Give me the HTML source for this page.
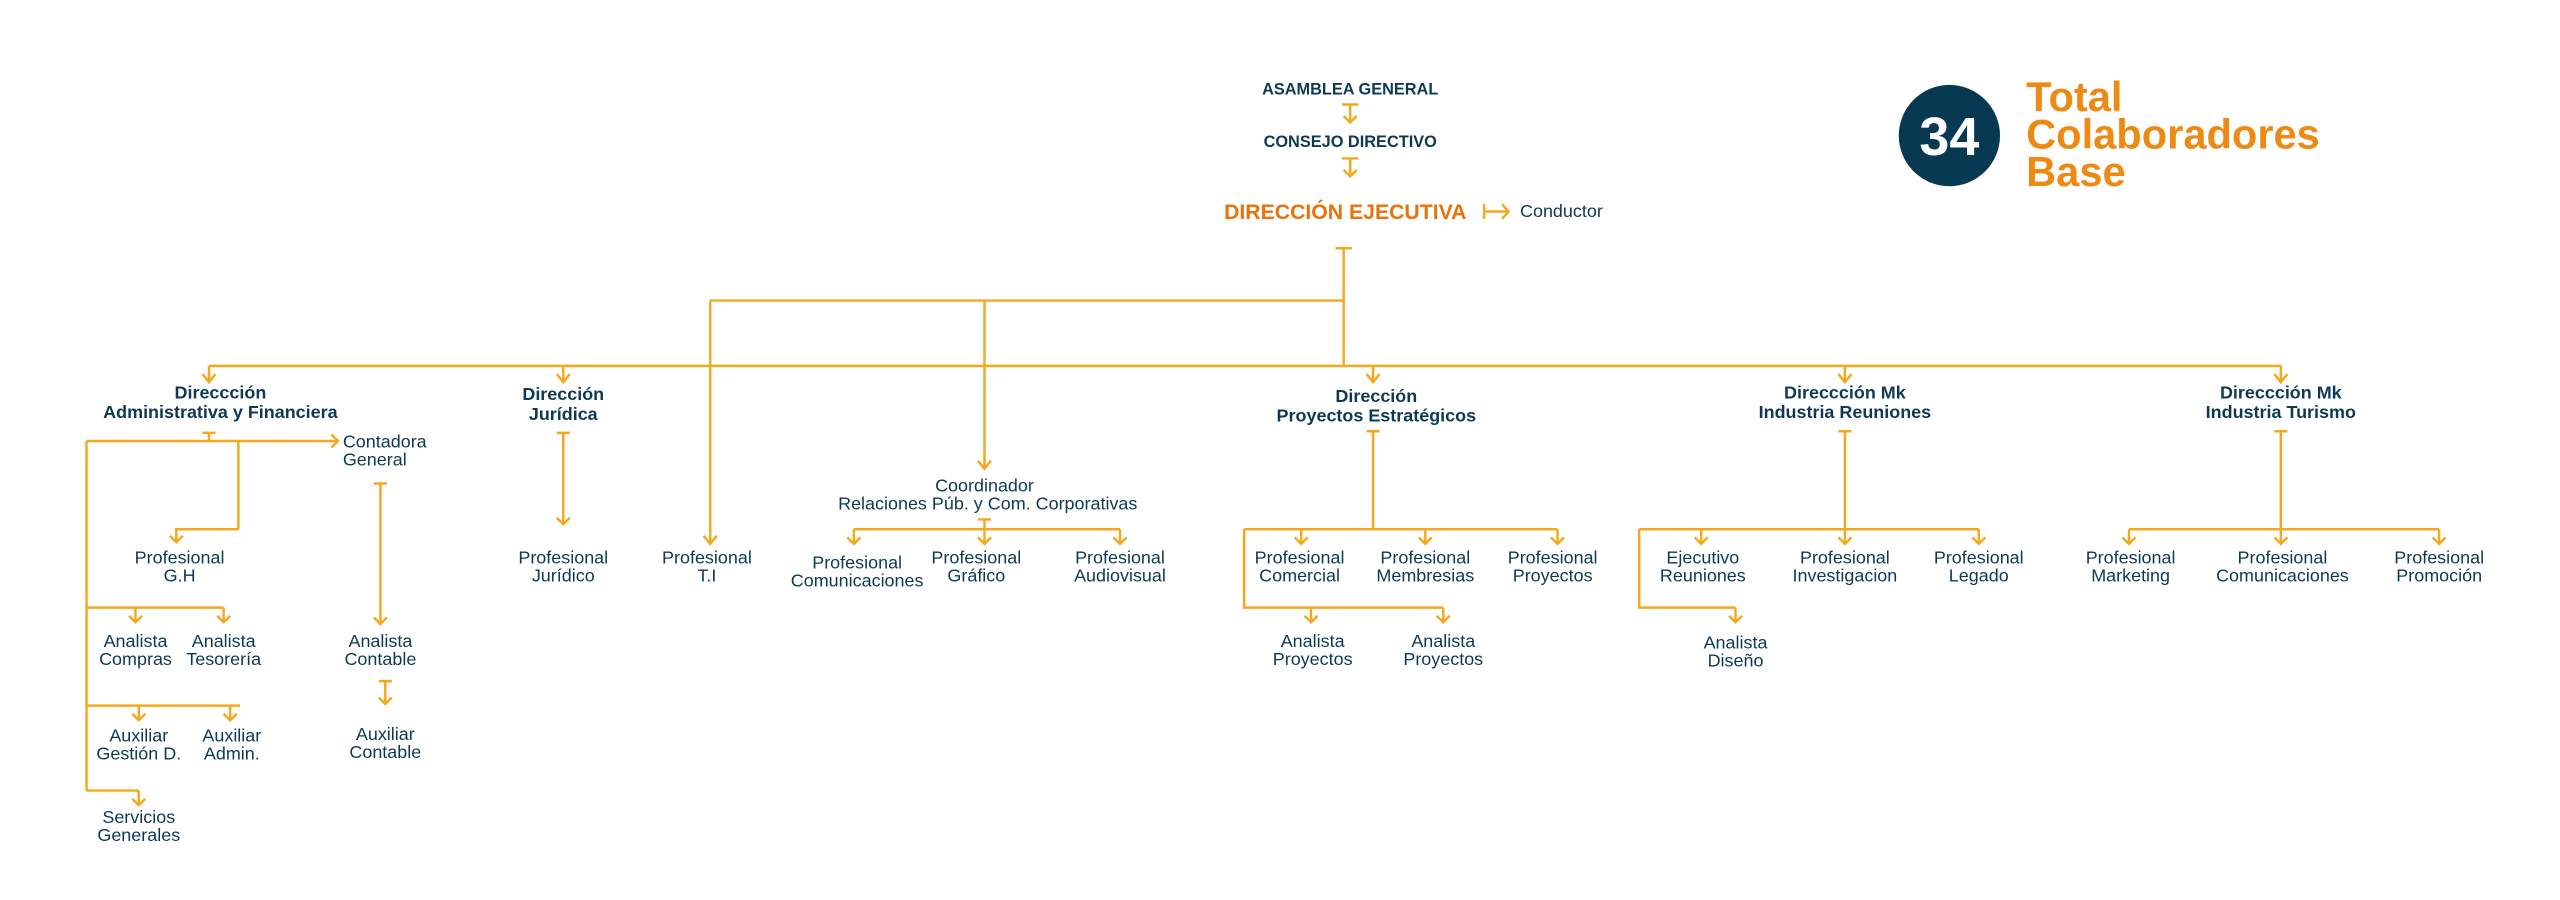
<!DOCTYPE html>
<html><head><meta charset="utf-8"><style>
html,body{margin:0;padding:0;background:#fff;}
svg{display:block}
text{font-family:"Liberation Sans",sans-serif;fill:#0d3a52;text-anchor:middle;font-size:11px}
.b{font-weight:bold;font-size:11px}
.l{fill:none;stroke:#f4a81d;stroke-width:1.5}
</style></head><body>
<svg width="2560" height="900" viewBox="0 0 1568 551" preserveAspectRatio="none" xmlns="http://www.w3.org/2000/svg">
<!-- top -->
<text x="827" y="58" class="b" style="font-size:10px">ASAMBLEA GENERAL</text>
<path class="l" d="M822 64H832M827 64V75M823 71L827 75L831 71"/>
<text x="827" y="90" class="b" style="font-size:10px">CONSEJO DIRECTIVO</text>
<path class="l" d="M822 97H832M827 97V108M823 104L827 108L831 104"/>
<text x="824" y="134" class="b" style="font-size:13px;fill:#e8720c">DIRECCIÓN EJECUTIVA</text>
<path class="l" d="M909 125V134M909 129.5H924M920 125L924 129.5L920 134"/>
<text x="931" y="133" style="text-anchor:start;font-size:11px">Conductor</text>
<circle cx="1194" cy="83" r="31" fill="#073a52"/>
<text x="1194" y="95" style="fill:#fff;font-weight:bold;font-size:33px">34</text>
<text x="1241" y="68" style="text-anchor:start;fill:#ee8a13;font-size:25.5px;font-weight:bold">Total</text>
<text x="1241" y="91" style="text-anchor:start;fill:#ee8a13;font-size:25.5px;font-weight:bold">Colaboradores</text>
<text x="1241" y="114" style="text-anchor:start;fill:#ee8a13;font-size:25.5px;font-weight:bold">Base</text>

<!-- main connectors -->
<path class="l" d="M818 152H828M823 152V224M435 184H823M435 184V333M431 328L435 333L439 328M603 184V287M599 282L603 287L607 282M128 224H1397"/>
<path class="l" d="M128 224V234M124 229L128 234L132 229M345 224V234M341 229L345 234L349 229M841 224V234M837 229L841 234L845 229M1130 224V234M1126 229L1130 234L1134 229M1397 224V234M1393 229L1397 234L1401 229"/>

<text x="135" y="244" class="b">Direccción</text>
<text x="135" y="256" class="b">Administrativa y Financiera</text>
<text x="345" y="245" class="b">Dirección</text>
<text x="345" y="257" class="b">Jurídica</text>
<text x="843" y="246" class="b">Dirección</text>
<text x="843" y="258" class="b">Proyectos Estratégicos</text>
<text x="1130" y="244" class="b">Direccción Mk</text>
<text x="1130" y="256" class="b">Industria Reuniones</text>
<text x="1397" y="244" class="b">Direccción Mk</text>
<text x="1397" y="256" class="b">Industria Turismo</text>

<!-- Admin -->
<path class="l" d="M124 265H132M128 265V270M53 270H207M203 266L207 270L203 274M146 270V324M107 324H146M108 324V332M104 328L108 332L112 328M53 270V484M53 372H137M83 372V381M79 377L83 381L87 377M137 372V381M133 377L137 381L141 377M53 432H147M85 432V441M81 437L85 441L89 437M141 432V441M137 437L141 441L145 437M53 484H85M85 484V493M81 489L85 493L89 489"/>
<path class="l" d="M229 296H237M233 296V382M229 378L233 382L237 378M232 417H240M236 417V431M232 427L236 431L240 427"/>
<text x="210" y="274" style="text-anchor:start">Contadora</text>
<text x="210" y="285" style="text-anchor:start">General</text>
<text x="110" y="345">Profesional</text><text x="110" y="356">G.H</text>
<text x="83" y="396">Analista</text><text x="83" y="407">Compras</text>
<text x="137" y="396">Analista</text><text x="137" y="407">Tesorería</text>
<text x="85" y="454">Auxiliar</text><text x="85" y="465">Gestión D.</text>
<text x="142" y="454">Auxiliar</text><text x="142" y="465">Admin.</text>
<text x="85" y="504">Servicios</text><text x="85" y="515">Generales</text>
<text x="233" y="396">Analista</text><text x="233" y="407">Contable</text>
<text x="236" y="453">Auxiliar</text><text x="236" y="464">Contable</text>

<!-- Juridica -->
<path class="l" d="M341 265H349M345 265V321M341 317L345 321L349 317"/>
<text x="345" y="345">Profesional</text><text x="345" y="356">Jurídico</text>
<text x="433" y="345">Profesional</text><text x="433" y="356">T.I</text>

<!-- Coordinador -->
<text x="603" y="301">Coordinador</text>
<text x="605" y="312">Relaciones Púb. y Com. Corporativas</text>
<path class="l" d="M599 318H607M603 318V333M523 324H686M523 324V333M519 329L523 333L527 329M599 329L603 333L607 329M686 324V333M682 329L686 333L690 329"/>
<text x="525" y="348">Profesional</text><text x="525" y="359">Comunicaciones</text>
<text x="598" y="345">Profesional</text><text x="598" y="356">Gráfico</text>
<text x="686" y="345">Profesional</text><text x="686" y="356">Audiovisual</text>

<!-- Proyectos -->
<path class="l" d="M837 264H845M841 264V324M762 324H954M797 324V333M793 329L797 333L801 329M873 324V333M869 329L873 333L877 329M954 324V333M950 329L954 333L958 329M762 324V372H884M803 372V381M799 377L803 381L807 377M884 372V381M880 377L884 381L888 377"/>
<text x="796" y="345">Profesional</text><text x="796" y="356">Comercial</text>
<text x="873" y="345">Profesional</text><text x="873" y="356">Membresias</text>
<text x="951" y="345">Profesional</text><text x="951" y="356">Proyectos</text>
<text x="804" y="396">Analista</text><text x="804" y="407">Proyectos</text>
<text x="884" y="396">Analista</text><text x="884" y="407">Proyectos</text>

<!-- Reuniones -->
<path class="l" d="M1126 264H1134M1130 264V333M1126 329L1130 333L1134 329M1004 324H1212M1042 324V333M1038 329L1042 333L1046 329M1212 324V333M1208 329L1212 333L1216 329M1004 324V372H1063M1063 372V381M1059 377L1063 381L1067 377"/>
<text x="1043" y="345">Ejecutivo</text><text x="1043" y="356">Reuniones</text>
<text x="1130" y="345">Profesional</text><text x="1130" y="356">Investigacion</text>
<text x="1212" y="345">Profesional</text><text x="1212" y="356">Legado</text>
<text x="1063" y="397">Analista</text><text x="1063" y="408">Diseño</text>

<!-- Turismo -->
<path class="l" d="M1393 264H1401M1397 264V333M1393 329L1397 333L1401 329M1304 324H1494M1304 324V333M1300 329L1304 333L1308 329M1494 324V333M1490 329L1494 333L1498 329"/>
<text x="1305" y="345">Profesional</text><text x="1305" y="356">Marketing</text>
<text x="1398" y="345">Profesional</text><text x="1398" y="356">Comunicaciones</text>
<text x="1494" y="345">Profesional</text><text x="1494" y="356">Promoción</text>
</svg>
</body></html>
